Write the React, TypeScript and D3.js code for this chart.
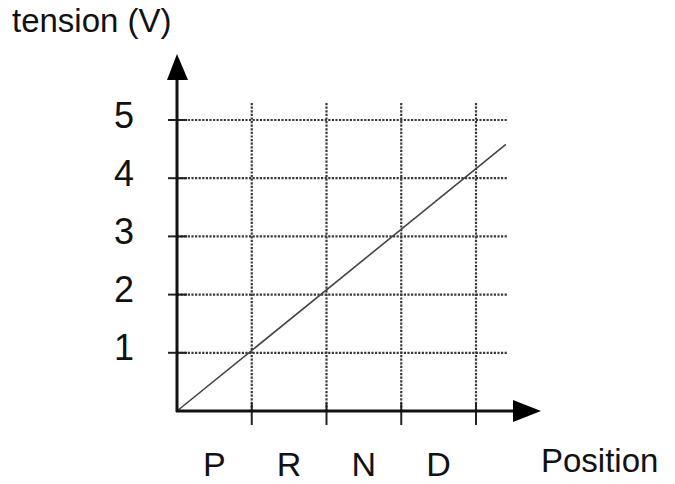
import React from "react";
import * as d3 from "d3";

const categories = ["P", "R", "N", "D"];
const gridPositions = [1, 2, 3, 4];
const yTicks = [1, 2, 3, 4, 5];
const lineX = [0, 4.4];
const lineY = [0, 4.58];
const yAxisTitle = "tension (V)";
const xAxisTitle = "Position";

const W = 675;
const H = 484;

export default function App() {
  const x0 = 177;
  const y0 = 411;
  const x = d3.scaleLinear().domain([0, 4]).range([x0, 476]);
  const y = d3.scaleLinear().domain([0, 5]).range([y0, 120]);
  const lineGen = d3
    .line<number>()
    .x((d) => x(lineX[d]))
    .y((d) => y(lineY[d]));
  const font = "'Liberation Sans', Arial, sans-serif";
  const gridColor = "#3a3a3a";
  return (
    <svg
      width={W}
      height={H}
      style={{ position: "absolute", left: 0, top: 0, background: "#fff" }}
    >
      <rect width={W} height={H} fill="#fff" />
      {/* horizontal grid */}
      {yTicks.map((t) => (
        <g key={"h" + t}>
          <line
            x1={x0}
            x2={508}
            y1={y(t)}
            y2={y(t)}
            stroke={gridColor}
            strokeWidth={2.2}
            strokeDasharray="2.2,1.4"
          />
          <line x1={168} x2={187} y1={y(t)} y2={y(t)} stroke="#222" strokeWidth={2} />
          <text
            x={134}
            y={y(t) - 5}
            textAnchor="end"
            dominantBaseline="central"
            fontFamily={font}
            fontSize={36}
            fill="#111"
          >
            {t}
          </text>
        </g>
      ))}
      {/* vertical grid */}
      {gridPositions.map((p) => (
        <g key={"v" + p}>
          <line
            x1={x(p)}
            x2={x(p)}
            y1={103}
            y2={y0}
            stroke={gridColor}
            strokeWidth={2.2}
            strokeDasharray="2.2,1.4"
          />
          <line x1={x(p)} x2={x(p)} y1={403} y2={425} stroke="#222" strokeWidth={2} />
        </g>
      ))}
      {/* category labels */}
      {categories.map((c, i) => (
        <text
          key={c}
          x={x(i + 0.5)}
          y={476}
          textAnchor="middle"
          fontFamily={font}
          fontSize={34}
          fill="#111"
        >
          {c}
        </text>
      ))}
      {/* data line */}
      <path d={lineGen([0, 1]) || ""} fill="none" stroke="#444" strokeWidth={1.6} />
      {/* axes */}
      <line x1={x0} x2={x0} y1={y0 + 1} y2={78} stroke="#111" strokeWidth={3} />
      <path d={`M${x0 - 10},80 L${x0 + 11},80 L${x0},54 Z`} fill="#000" />
      <line x1={x0 - 1} x2={515} y1={y0} y2={y0} stroke="#111" strokeWidth={3} />
      <path d={`M513,${y0 - 11} L513,${y0 + 11} L541,${y0} Z`} fill="#000" />
      {/* titles */}
      <text x={12} y={32} fontFamily={font} fontSize={33} fill="#111">
        {yAxisTitle}
      </text>
      <text x={541} y={472} fontFamily={font} fontSize={33} fill="#111">
        {xAxisTitle}
      </text>
    </svg>
  );
}
